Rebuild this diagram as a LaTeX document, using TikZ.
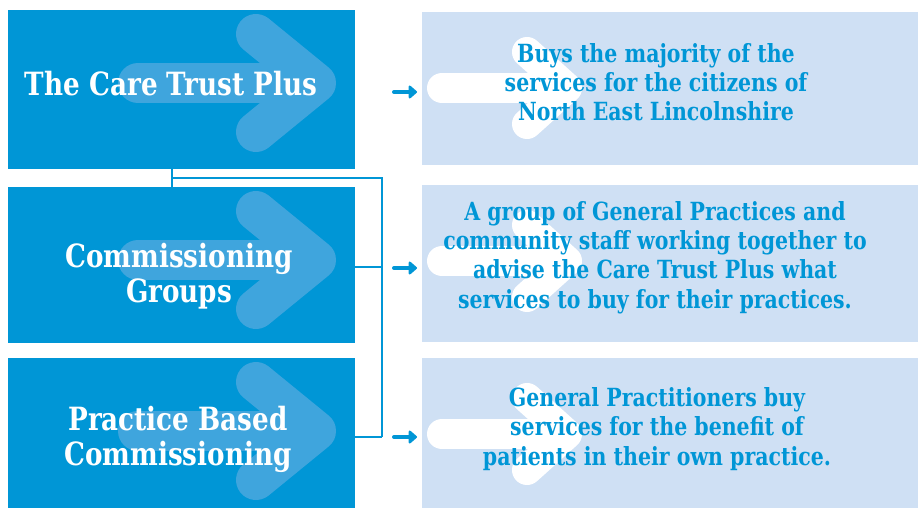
\documentclass[tikz,border=0pt]{standalone}
\usepackage{fontspec}
\setmainfont{DejaVu Serif}
\newfontfamily\slabfont[FakeStretch=0.82]{DejaVu Serif}
\usetikzlibrary{arrows.meta}

\definecolor{ctblue}{HTML}{0096D6}
\definecolor{ctghost}{HTML}{3FA5DD}
\definecolor{ctpale}{HTML}{CFE0F4}

\tikzset{
  leftbox/.style={fill=ctblue, draw=none, anchor=north west, inner sep=0pt,
    minimum width=347pt, minimum height=#1},
  rightbox/.style={fill=ctpale, draw=none, anchor=north west, inner sep=0pt,
    minimum width=496pt, minimum height=#1},
  lefttext/.style={text=white, align=center, inner sep=0pt,
    font=\slabfont\bfseries\fontsize{32}{34.5}\selectfont},
  righttext/.style={text=ctblue, align=center, inner sep=0pt,
    font=\slabfont\bfseries\fontsize{25}{29.3}\selectfont},
  ghostline/.style={draw=ctghost, line width=40pt, line cap=round, line join=round},
  paleline/.style={draw=white, line width=30pt, line cap=round, line join=round},
  link/.style={draw=ctblue, line width=1.3pt},
  pointer/.style={draw=ctblue, line width=4pt, line cap=round,
    -{Triangle[round, length=9pt, width=15pt]}, shorten >=5pt},
}

% big faded arrow inside a dark box; #1 = top-left corner of the box
\newcommand{\ghostarrow}[1]{%
  \begin{scope}[shift={#1}]
    \draw[ghostline] (130,73) -- (300,73);
    \draw[ghostline] (248,24) -- (308,73) -- (248,122);
  \end{scope}}
% white arrow inside a pale box; #1 = top-left corner of the box
\newcommand{\palearrow}[1]{%
  \begin{scope}[shift={#1}]
    \draw[paleline] (20,76) -- (138,76);
    \draw[paleline] (105,40) -- (145,76) -- (105,112);
  \end{scope}}

\begin{document}
\begin{tikzpicture}[x=1pt, y=-1pt]
  \useasboundingbox (0,0) rectangle (918,508);

  % organisation boxes
  \node[leftbox=159pt] (tcp) at (8,10) {};
  \node[leftbox=156pt] (cg)  at (8,187) {};
  \node[leftbox=150pt] (pbc) at (8,358) {};
  \ghostarrow{(8,10)}
  \ghostarrow{(8,187)}
  \ghostarrow{(8,358)}

  % description boxes
  \node[rightbox=153pt] (d1) at (422,12) {};
  \node[rightbox=157pt] (d2) at (422,185) {};
  \node[rightbox=150pt] (d3) at (422,358) {};
  \palearrow{(422,12)}
  \palearrow{(422,185)}
  \palearrow{(422,358)}

  % labels (base anchor sits on the last line's baseline)
  \node[lefttext, anchor=base] (t1) at (171,96) {The Care Trust Plus};
  \node[lefttext, anchor=base] (t2) at (179,302) {Commissioning\\Groups};
  \node[lefttext, anchor=base] (t3) at (178,465) {Practice Based\\Commissioning};

  \node[righttext, anchor=base] (r1) at (656,121)
    {Buys the majority of the\\services for the citizens of\\North East Lincolnshire};
  \node[righttext, anchor=base] (r2) at (655,308)
    {A group of General Practices and\\community staff working together to\\advise the Care Trust Plus what\\services to buy for their practices.};
  \node[righttext, anchor=base] (r3) at (657,465)
    {General Practitioners buy\\services for the benefit of\\patients in their own practice.};

  % connector rail
  \coordinate (drop) at (172,178);
  \coordinate (rail) at (382,178);
  \coordinate (railcg) at (382,267);
  \coordinate (railpbc) at (382,437);
  \draw[link] (tcp.south -| drop) -- (cg.north -| drop);
  \draw[link] (drop) -- (rail) -- (railpbc);
  \draw[link] (cg.east |- railcg) -- (railcg);
  \draw[link] (pbc.east |- railpbc) -- (railpbc);

  % pointers into the description boxes
  \coordinate (p1) at (394,92);
  \coordinate (p2) at (394,268);
  \coordinate (p3) at (394,437);
  \draw[pointer] (p1) -- (d1.west |- p1);
  \draw[pointer] (p2) -- (d2.west |- p2);
  \draw[pointer] (p3) -- (d3.west |- p3);
\end{tikzpicture}
\end{document}
